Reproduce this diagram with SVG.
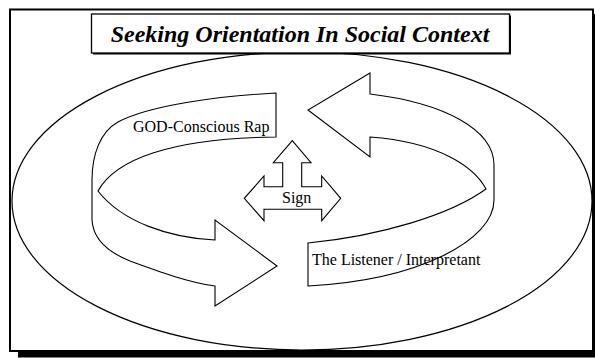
<svg xmlns="http://www.w3.org/2000/svg" width="595" height="358" viewBox="0 0 595 358">
  <style>
    .ink { fill: #fff; stroke: #000; stroke-width: 1.1; stroke-linejoin: miter; }
    .lbl { font-family: "Liberation Serif", "Times New Roman", serif; font-size: 16px; fill: #000; }
    .title { font-family: "Liberation Serif", "Times New Roman", serif; font-size: 24px; font-weight: bold; font-style: italic; fill: #000; }
  </style>

  <rect x="0" y="0" width="595" height="358" fill="#fff"/>

  <!-- outer frame with drop shadow -->
  <g id="frame">
    <rect x="10" y="9.5" width="583" height="341.5" fill="none" stroke="#000" stroke-width="2"/>
    <rect x="18" y="352" width="577" height="5.5" fill="#000"/>
    <rect x="592" y="14" width="3" height="343" fill="#000"/>
  </g>

  <!-- social context ellipse -->
  <g id="social-context">
    <ellipse cx="302" cy="201" rx="290" ry="149" fill="none" stroke="#000" stroke-width="1.2"/>
  </g>

  <!-- heading -->
  <g id="title">
    <rect x="93" y="15.5" width="418" height="39" fill="#000"/>
    <rect x="91.5" y="14" width="418" height="39" fill="#fff" stroke="#000" stroke-width="1.3"/>
    <text class="title" x="300" y="42" text-anchor="middle">Seeking Orientation In Social Context</text>
  </g>

  <!-- ribbon arrow: rap -->
  <g id="rap">
    <path class="ink" d="M276,93 C220,96 150,105 118,122 C100,132 92,155 92,180 L92,220 C93,238 105,251 130,261 C160,272 190,283 215,286 L215,306 L277,266 L215,220 L215,240 C170,238 122,222 98,191 C115,160 170,138 276,137 Z"/>
    <text class="lbl" x="133" y="132">GOD-Conscious Rap</text>
  </g>

  <!-- ribbon arrow: listener -->
  <g id="listener">
    <path class="ink" d="M308,286 L308,243 C380,236 450,215 486,189 C475,168 440,142 370,137 L370,157 L308,110 L370,73 L370,94 C445,103 494,130 494,165 L494,200 C494,240 420,280 308,286 Z"/>
    <text class="lbl" x="312" y="265">The Listener / Interpretant</text>
  </g>

  <!-- three-way sign arrow -->
  <g id="sign">
    <path class="ink" d="M292.3,140.7 L311,162.7 L301.7,162.7 L301.7,186.7 L321.7,186.7 L321.7,176 L340.7,198.3 L321.7,220.7 L321.7,209.3 L264,209.3 L264,220.7 L244.3,198.3 L264,176 L264,186.7 L282.7,186.7 L282.7,162.7 L273.3,162.7 Z"/>
    <text class="lbl" x="282" y="203">Sign</text>
  </g>
</svg>
